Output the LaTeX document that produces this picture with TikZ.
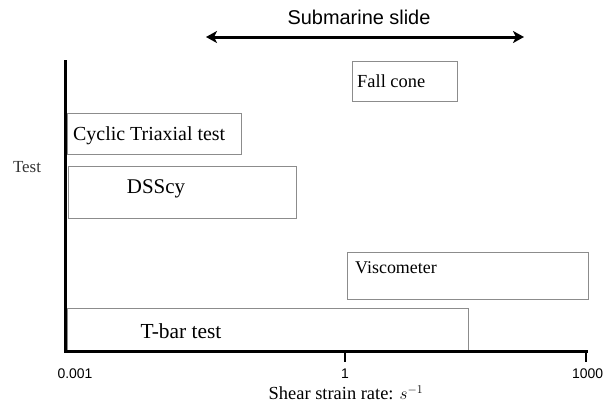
\documentclass[tikz,border=0pt]{standalone}
\usepackage{fontspec}
\setmainfont{Liberation Serif}
\newfontfamily\arialfont{Liberation Sans}
\usetikzlibrary{arrows.meta}
\begin{document}
\begin{tikzpicture}[x=1bp,y=-1bp,
  testbox/.style={draw=black!45, line width=1.2bp, inner sep=0, anchor=north west},
  lbl/.style={inner sep=0, anchor=west},
  clbl/.style={inner sep=0, anchor=center},
  axisline/.style={line width=3bp},
  tickline/.style={line width=2.2bp},
  sans/.style={font=\arialfont\fontsize{14}{16}\selectfont, inner sep=0}]
\useasboundingbox (0,0) rectangle (603,406);
% boxes
\node[testbox, minimum width=105bp, minimum height=40bp] (fall) at (352,61) {};
\node[testbox, minimum width=174bp, minimum height=41bp] (cyc) at (67,113) {};
\node[testbox, minimum width=228bp, minimum height=52bp] (dss) at (68,166) {};
\node[testbox, minimum width=241bp, minimum height=47bp] (visc) at (347,252) {};
\node[testbox, minimum width=401bp, minimum height=43bp] (tbar) at (67,308) {};
% labels
\node[lbl, font=\fontsize{18.5}{21}\selectfont] (falllbl) at (357,81) {Fall cone};
\node[lbl, font=\fontsize{20}{23}\selectfont] (cyclbl) at (73,136) {Cyclic Triaxial test};
\node[clbl, font=\fontsize{21}{24}\selectfont] (dsslbl) at (156,189) {DSScy};
\node[lbl, font=\fontsize{18}{21}\selectfont] (visclbl) at (355,268) {Viscometer};
\node[clbl, font=\fontsize{21.5}{24}\selectfont] (tbarlbl) at (181,331) {T-bar test};
\node[clbl, font=\fontsize{17}{20}\selectfont, text=black!80] (testlbl) at (27,167) {Test};
% axes
\coordinate (ytop) at (65,60);
\coordinate (orig) at (65,351);
\coordinate (xend) at (588,351);
\draw[axisline] (ytop) -- (orig) -- (xend);
\coordinate (t1) at (345,351);
\coordinate (t1b) at (345,362);
\coordinate (t2) at (586,351);
\coordinate (t2b) at (586,362);
\draw[tickline] (t1) -- (t1b);
\draw[tickline] (t2) -- (t2b);
\node[sans] (l0) at (75,374) {0.001};
\node[sans] (l1) at (345,374) {1};
\node[sans, anchor=west] (l2) at (572,374) {1000};
\node[clbl, font=\fontsize{18.5}{21}\selectfont] (xlbl) at (346,393) {Shear strain rate: $s^{-1}$};
% submarine slide
\coordinate (al) at (206,37);
\coordinate (ar) at (524,37);
\draw[line width=3bp, {Stealth[length=11bp,width=12bp,inset=3bp]}-{Stealth[length=11bp,width=12bp,inset=3bp]}] (al) -- (ar);
\node[sans, font=\arialfont\fontsize{20}{23}\selectfont] (slide) at (359,17) {Submarine slide};
\end{tikzpicture}
\end{document}
